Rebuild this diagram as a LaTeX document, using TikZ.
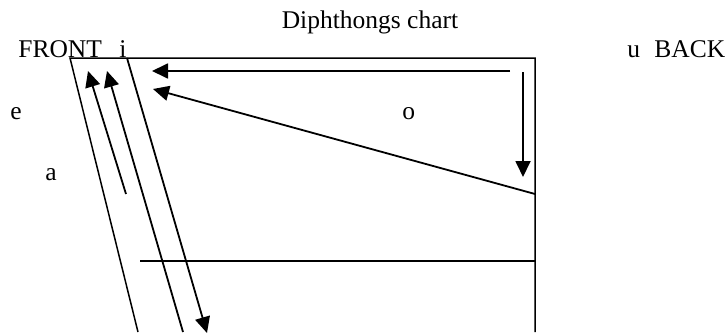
\documentclass[tikz,border=0pt]{standalone}
\usepackage{fontspec}
\setmainfont{Liberation Serif}
\usetikzlibrary{arrows.meta,positioning}
\tikzset{
  lbl/.style    ={inner sep=0pt, anchor=base west,
                  font=\fontsize{12.75}{15}\selectfont},
  frame/.style  ={line width=0.75pt},
  edge/.style   ={line width=0.6pt},
  arr/.style    ={-{Triangle[length=8pt,width=7.5pt]}, line width=0.9pt},
}
\begin{document}
\begin{tikzpicture}[x=0.5pt,y=-0.5pt]
  \useasboundingbox (0,0) rectangle (727,332);
  %% labels
  \node[lbl, anchor=base] (title) at (370,28) {Diphthongs chart};
  \node[lbl] (front) at (18,57) {FRONT};
  \node[lbl] (vi) at (119,57) {i};
  \node[lbl] (vu) at (627,57) {u};
  \node[lbl] (back) at (654,57) {BACK};
  \node[lbl] (ve) at (10,119) {e};
  \node[lbl] (vo) at (402,119) {o};
  \node[lbl] (va) at (45,180) {a};
  %% chart frame
  \coordinate (tl) at (70,58);
  \coordinate (tr) at (535,58);
  \coordinate (br) at (535,332);
  \coordinate (bl) at (138,332);
  \coordinate (ml) at (140,261);
  \coordinate (mr) at (535,261);
  \draw[frame] (bl) -- (tl) -- (tr) -- (br);
  \draw[edge] (ml) -- (mr);
  %% glides
  \coordinate (a1s) at (126,194);  \coordinate (a1e) at (88,71);
  \coordinate (a2s) at (183,332);  \coordinate (a2e) at (107,71);
  \coordinate (a3s) at (127,58);   \coordinate (a3e) at (207,333);
  \coordinate (a4s) at (510,71);   \coordinate (a4e) at (152,71);
  \coordinate (a5s) at (535,194);  \coordinate (a5e) at (153,89);
  \coordinate (a6s) at (523,72);   \coordinate (a6e) at (523,177);
  \draw[arr] (a1s) -- (a1e);
  \draw[arr] (a2s) -- (a2e);
  \draw[arr] (a3s) -- (a3e);
  \draw[arr] (a4s) -- (a4e);
  \draw[arr] (a5s) -- (a5e);
  \draw[arr] (a6s) -- (a6e);
\end{tikzpicture}
\end{document}
